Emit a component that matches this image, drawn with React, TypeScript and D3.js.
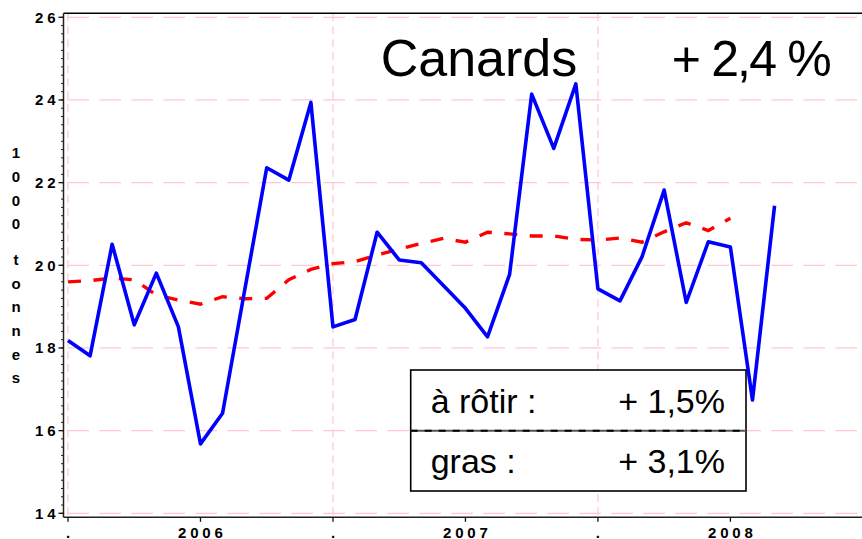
import React from "react";
import * as d3 from "d3";

// Monthly series, starting July 2005
const startMonth = "2005-07";
const canards: number[] = [
  18.18, 17.81, 20.51, 18.56, 19.81, 18.51, 15.68, 16.42, 19.39, 22.36, 22.06,
  23.94, 18.51, 18.69, 20.8, 20.13, 20.06, 19.51, 18.96, 18.27, 19.78, 24.14,
  22.83, 24.39, 19.43, 19.14, 20.21, 21.82, 19.1, 20.57, 20.44, 16.74, 21.44,
];
const moyenne: number[] = [
  19.6, 19.63, 19.69, 19.65, 19.28, 19.16, 19.06, 19.24, 19.19, 19.2, 19.65,
  19.9, 20.04, 20.09, 20.25, 20.39, 20.53, 20.65, 20.56, 20.8, 20.76, 20.71,
  20.71, 20.63, 20.61, 20.66, 20.56, 20.81, 21.03, 20.84, 21.14,
];
const xTickMonths: number[] = [0, 6, 12, 18, 24, 30];
const xTickLabels: string[] = [".", "2006", ".", "2007", ".", "2008"];
const xGridMonths: number[] = [0, 12, 24, 36];
const yTicks: number[] = [14, 16, 18, 20, 22, 24, 26];
const yTitle = "1000 tonnes";
const title = "Canards";
const titleChange = "+ 2,4 %";
const boxLabels: string[] = ["à rôtir :", "gras :"];
const boxValues: string[] = ["+ 1,5%", "+ 3,1%"];

const W = 862;
const H = 539;

export default function App() {
  const x = d3.scaleLinear().domain([0, 36]).range([68, 68 + 36 * 22.08]);
  const y = d3.scaleLinear().domain([14, 26]).range([513.3, 17.3]);
  const axisX = 63.5;
  const axisBottom = 517.3;
  const frameTop = 13.3;

  const line = d3
    .line<number>()
    .x((_, i) => x(i))
    .y((d) => y(d));

  const minor = d3.range(14, 26.001, 0.2);
  const font = "'Liberation Sans', Arial, Helvetica, sans-serif";
  const ls = 3.8;

  // y title layout
  let yy = 158.3;
  const titleChars: { c: string; y: number }[] = [];
  for (const c of yTitle) {
    if (c === " ") {
      yy += 23.7 * 0.5;
      continue;
    }
    titleChars.push({ c, y: yy });
    yy += 23.7;
  }

  return (
    <svg
      width={W}
      height={H}
      style={{ position: "fixed", left: 0, top: 0, background: "#fff" }}
      fontFamily={font}
    >
      <rect x={0} y={0} width={W} height={H} fill="#fff" />
      {/* grid */}
      {yTicks.map((t) => (
        <line
          key={"hg" + t}
          x1={axisX}
          x2={W}
          y1={y(t)}
          y2={y(t)}
          stroke="#ffc6d0"
          strokeWidth={1.2}
          strokeDasharray="21.5,10.5"
          strokeDashoffset={-4}
        />
      ))}
      {xGridMonths.map((m) => (
        <line
          key={"vg" + m}
          x1={x(m)}
          x2={x(m)}
          y1={frameTop}
          y2={axisBottom}
          stroke="#ffc6d0"
          strokeWidth={1.2}
          strokeDasharray="8,5"
        />
      ))}
      {/* frame / axes */}
      <line x1={axisX} x2={W} y1={frameTop} y2={frameTop} stroke="#000" strokeWidth={1.5} />
      <line x1={axisX} x2={axisX} y1={frameTop} y2={axisBottom} stroke="#222" strokeWidth={1.5} />
      <line x1={axisX} x2={W} y1={axisBottom} y2={axisBottom} stroke="#222" strokeWidth={1.5} />
      {minor.map((t, i) => (
        <line
          key={"mt" + i}
          x1={axisX - 2.5}
          x2={axisX}
          y1={y(t)}
          y2={y(t)}
          stroke="#222"
          strokeWidth={1}
        />
      ))}
      {yTicks.map((t) => (
        <g key={"yt" + t}>
          <line x1={axisX - 5} x2={axisX} y1={y(t)} y2={y(t)} stroke="#111" strokeWidth={1.3} />
          <text
            x={55.5 + ls}
            y={y(t) + 5.5}
            textAnchor="end"
            fontSize={15}
            fontWeight="bold"
            letterSpacing={ls}
            fill="#000"
          >
            {t}
          </text>
        </g>
      ))}
      {xTickMonths.map((m, i) => (
        <g key={"xt" + m}>
          <line x1={x(m)} x2={x(m)} y1={axisBottom} y2={axisBottom + 4.5} stroke="#111" strokeWidth={1.3} />
          <text
            x={x(m) + ls / 2}
            y={537.5}
            textAnchor="middle"
            fontSize={15}
            fontWeight="bold"
            letterSpacing={ls}
            fill="#000"
          >
            {xTickLabels[i]}
          </text>
        </g>
      ))}
      {titleChars.map((t, i) => (
        <text
          key={"yc" + i}
          x={16}
          y={t.y}
          textAnchor="middle"
          fontSize={15}
          fontWeight="bold"
          fill="#000"
        >
          {t.c}
        </text>
      ))}
      {/* series */}
      <path
        d={line(moyenne) || ""}
        fill="none"
        stroke="#ff0000"
        strokeWidth={3.4}
        strokeDasharray="13,12.5"
      />
      <path
        d={line(canards) || ""}
        fill="none"
        stroke="#0000ff"
        strokeWidth={3.6}
        strokeLinejoin="round"
      />
      {/* title */}
      <text x={380.7} y={76} fontSize={52} fill="#000">
        {title}
      </text>
      <text x={671.7} y={76} fontSize={50} fill="#000" textLength={160} lengthAdjust="spacing">
        {titleChange}
      </text>
      {/* box */}
      <rect x={410.7} y={370} width={335.3} height={121} fill="#fff" stroke="#000" strokeWidth={1.6} />
      <line x1={410.7} x2={746} y1={430.7} y2={430.7} stroke="#555" strokeWidth={2} />
      <line
        x1={410.7}
        x2={746}
        y1={430.7}
        y2={430.7}
        stroke="#000"
        strokeWidth={2}
        strokeDasharray="7,7"
      />
      {boxLabels.map((l, i) => (
        <g key={"bl" + i}>
          <text x={430.7} y={413.3 + i * 60} fontSize={34} fill="#000">
            {l}
          </text>
          <text x={725} y={413.3 + i * 60} fontSize={34} textAnchor="end" fill="#000">
            {boxValues[i]}
          </text>
        </g>
      ))}
      <desc>{startMonth}</desc>
    </svg>
  );
}
